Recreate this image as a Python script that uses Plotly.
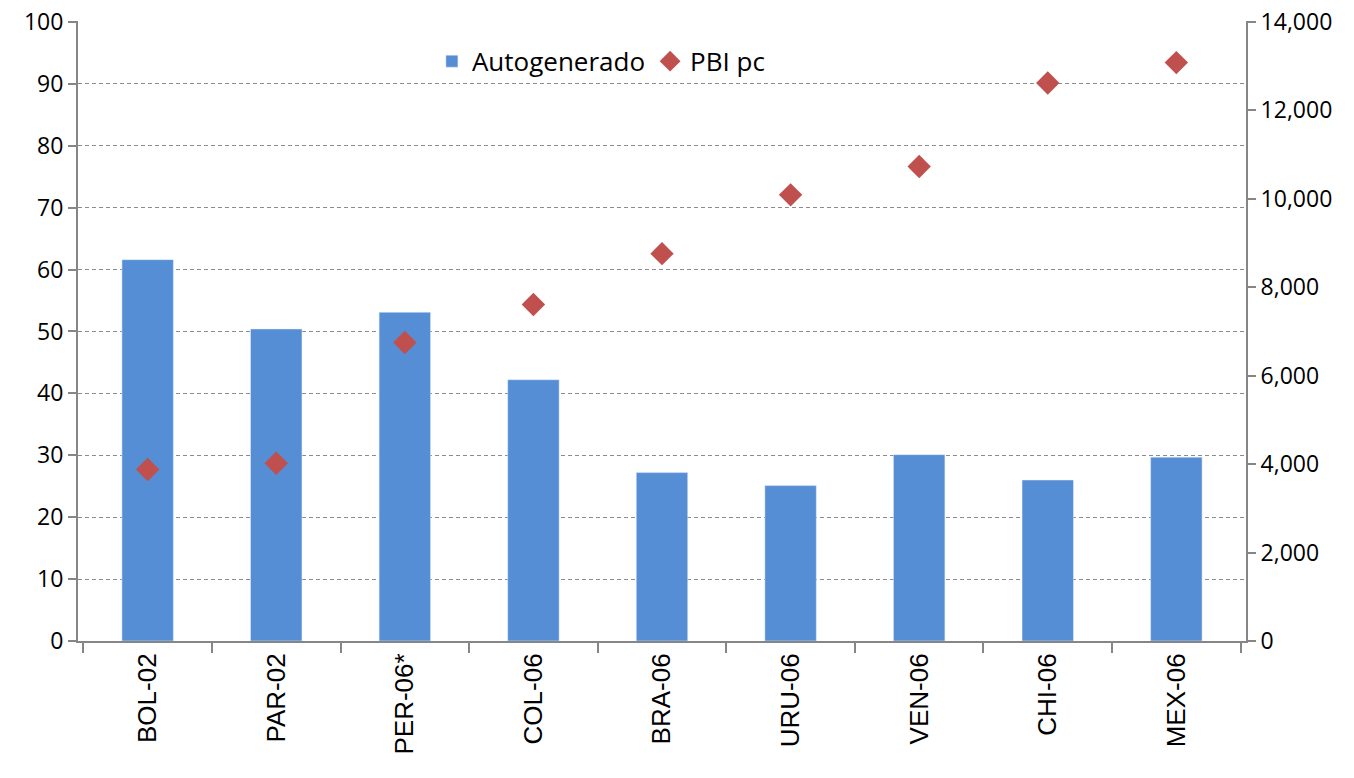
import plotly.graph_objects as go

paises = ["BOL-02", "PAR-02", "PER-06*", "COL-06", "BRA-06", "URU-06", "VEN-06", "CHI-06", "MEX-06"]
autogenerado = [61.6, 50.4, 53.1, 42.2, 27.2, 25.1, 30.1, 26.0, 29.7]
pbi_pc = [3880, 4020, 6750, 7610, 8760, 10090, 10730, 12620, 13080]

eje_gris = "#868686"

fig = go.Figure()
fig.add_trace(go.Bar(
    x=paises,
    y=autogenerado,
    name="Autogenerado",
    marker=dict(color="#558ED5"),
    yaxis="y",
))
fig.add_trace(go.Scatter(
    x=paises,
    y=pbi_pc,
    name="PBI pc",
    mode="markers",
    marker=dict(symbol="diamond", size=18, color="#C0504D"),
    yaxis="y2",
))

fig.update_layout(
    width=1354,
    height=778,
    margin=dict(l=78, r=108, t=21, b=137),
    paper_bgcolor="white",
    plot_bgcolor="white",
    bargap=0.6,
    font=dict(family="Open Sans", size=23, color="black"),
    legend=dict(
        orientation="h",
        x=0.303, y=0.935,
        xanchor="left", yanchor="middle",
        font=dict(family="Open Sans", size=26),
        bgcolor="rgba(0,0,0,0)",
        itemwidth=30,
    ),
    showlegend=True,
    xaxis=dict(
        type="category",
        tickangle=-90,
        tickson="boundaries",
        ticks="outside",
        ticklen=10,
        tickcolor=eje_gris,
        tickwidth=2,
        showline=True,
        linecolor=eje_gris,
        linewidth=2,
        showgrid=False,
        automargin=False,
        ticklabeloverflow="allow",
        tickfont=dict(family="Liberation Sans", size=26),
    ),
    yaxis=dict(
        range=[0, 100.15],
        tick0=0,
        dtick=10,
        ticks="outside",
        ticklen=8,
        tickcolor=eje_gris,
        tickwidth=2,
        showline=True,
        linecolor=eje_gris,
        linewidth=2,
        showgrid=True,
        gridcolor="#8c8c8c",
        griddash="4px,3px",
        gridwidth=1,
        zeroline=False,
        automargin=False,
        ticklabeloverflow="allow",
        tickfont=dict(size=23),
    ),
    yaxis2=dict(
        range=[0, 14021],
        tick0=0,
        dtick=2000,
        tickformat=",",
        overlaying="y",
        side="right",
        ticks="outside",
        ticklen=8,
        tickcolor=eje_gris,
        tickwidth=2,
        showline=True,
        linecolor=eje_gris,
        linewidth=2,
        showgrid=False,
        zeroline=False,
        automargin=False,
        ticklabeloverflow="allow",
        tickfont=dict(size=23),
    ),
)

# drop the default body margin so the figure fills the window exactly
fig.write_html(
    "out.html",
    config={"displayModeBar": False},
    post_script="document.body.style.margin='0';",
)
